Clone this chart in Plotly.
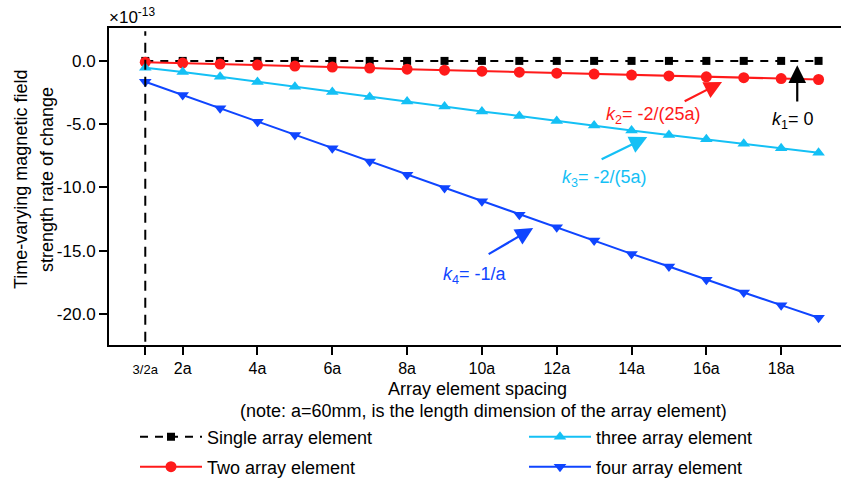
import plotly.graph_objects as go

# ---- data ----
x_pos = list(range(1, 20))  # 3/2a, 2a, 3a, ..., 19a
single = [0.0] * 19
two = [-0.10, -0.17, -0.25, -0.33, -0.41, -0.49, -0.57, -0.65, -0.73, -0.81,
       -0.89, -0.97, -1.04, -1.12, -1.19, -1.26, -1.33, -1.40, -1.47]
three = [-0.55, -0.87, -1.26, -1.66, -2.05, -2.45, -2.85, -3.20, -3.60, -4.00,
         -4.35, -4.75, -5.10, -5.50, -5.85, -6.20, -6.55, -6.90, -7.25]
four = [-1.65, -2.70, -3.75, -4.80, -5.85, -6.90, -7.95, -9.00, -10.05, -11.10,
        -12.15, -13.15, -14.20, -15.25, -16.25, -17.30, -18.30, -19.30, -20.30]
tick_vals = [1, 2, 4, 6, 8, 10, 12, 14, 16, 18]
tick_text = ["<span style='font-size:13px'>3/2a</span>", "2a", "4a", "6a", "8a",
             "10a", "12a", "14a", "16a", "18a"]
y_ticks = [0, -5, -10, -15, -20]
y_tick_text = [f"{v:.1f}" for v in y_ticks]

BLACK = "#000000"
RED = "#ff1a1a"
CYAN = "#14c0f5"
BLUE = "#0f45ff"
FONT = "Arial, Liberation Sans, sans-serif"

# plot-area geometry (pixels)
L, R, T, B = 109, 841, 28, 345
W, H = R - L, B - T

def px(x):
    return (x - L) / W

def py(y):
    return (B - y) / H

fig = go.Figure()
fig.add_trace(go.Scatter(x=x_pos, y=single, mode="lines+markers", name="Single array element",
                         line=dict(color=BLACK, width=2, dash="8px,7px"),
                         marker=dict(symbol="square", size=8, color=BLACK),
                         legend="legend", showlegend=True))
fig.add_trace(go.Scatter(x=x_pos, y=two, mode="lines+markers", name="Two array element",
                         line=dict(color=RED, width=2),
                         marker=dict(symbol="circle", size=11, color=RED),
                         legend="legend2", showlegend=True))
fig.add_trace(go.Scatter(x=x_pos, y=three, mode="lines+markers", name="three array element",
                         line=dict(color=CYAN, width=2),
                         marker=dict(symbol="triangle-up", size=11, color=CYAN),
                         legend="legend3", showlegend=True))
fig.add_trace(go.Scatter(x=x_pos, y=four, mode="lines+markers", name="four array element",
                         line=dict(color=BLUE, width=2),
                         marker=dict(symbol="triangle-down", size=11, color=BLUE),
                         legend="legend4", showlegend=True))

# vertical dashed reference line at 3/2a
fig.add_shape(type="line", xref="x", yref="paper", x0=x_pos[0], x1=x_pos[0], y0=0.01, y1=0.99,
              line=dict(color=BLACK, width=2, dash="10px,7px"))

def arrow(tip, tail, color):
    fig.add_annotation(x=tip[0], y=tip[1], ax=tail[0], ay=tail[1], xref="x", yref="y",
                       axref="x", ayref="y", text="", showarrow=True, arrowhead=2,
                       arrowsize=1.6, arrowwidth=2.2, arrowcolor=color)

def label(pos, text, color):
    fig.add_annotation(x=pos[0], y=pos[1], xref="x", yref="y", text=text, showarrow=False,
                       font=dict(family=FONT, size=18, color=color))

arrow((18.43, -0.35), (18.43, -3.33), BLACK)
label((18.32, -4.67), "<i>k</i><sub>1</sub>= 0", BLACK)
arrow((16.42, -1.67), (15.38, -3.25), RED)
label((14.6, -4.28), "<i>k</i><sub>2</sub>= -2/(25a)", RED)
arrow((14.42, -6.02), (13.16, -7.83), CYAN)
label((13.29, -9.26), "<i>k</i><sub>3</sub>= -2/(5a)", CYAN)
arrow((11.37, -13.21), (10.14, -15.34), BLUE)
label((9.82, -16.93), "<i>k</i><sub>4</sub>= -1/a", BLUE)

# texts around the axes
fig.add_annotation(x=px(107), y=py(16), xref="paper", yref="paper", xanchor="left",
                   yanchor="middle", text="×10<sup>-13</sup>", showarrow=False,
                   font=dict(family=FONT, size=17, color=BLACK))
fig.add_annotation(x=px(477), y=py(389), xref="paper", yref="paper", yanchor="middle",
                   xanchor="center", text="Array element spacing", showarrow=False,
                   font=dict(family=FONT, size=18, color=BLACK))
fig.add_annotation(x=px(483), y=py(411), xref="paper", yref="paper", yanchor="middle",
                   xanchor="center",
                   text="(note: a=60mm, is the length dimension of the array element)",
                   showarrow=False, font=dict(family=FONT, size=18, color=BLACK))
# y-axis title, two rotated lines
fig.add_annotation(x=px(21), y=py(180), xref="paper", yref="paper", textangle=-90,
                   xanchor="center", yanchor="middle",
                   text="Time-varying magnetic field", showarrow=False,
                   font=dict(family=FONT, size=18, color=BLACK))
fig.add_annotation(x=px(47), y=py(180), xref="paper", yref="paper", textangle=-90,
                   xanchor="center", yanchor="middle",
                   text="strength rate of change", showarrow=False,
                   font=dict(family=FONT, size=18, color=BLACK))

def leg(xp, yp):
    return dict(x=px(xp), y=py(yp), xanchor="left", yanchor="middle", orientation="v",
                itemwidth=62, font=dict(family=FONT, size=18), bgcolor="rgba(0,0,0,0)",
                borderwidth=0)

fig.update_layout(
    width=843, height=478,
    showlegend=True,
    margin=dict(l=L, r=843 - R, t=T, b=478 - B, autoexpand=False),
    paper_bgcolor="white", plot_bgcolor="white",
    font=dict(family=FONT, size=17, color=BLACK),
    legend=leg(135, 437),
    legend2=leg(135, 467),
    legend3=leg(524, 437),
    legend4=leg(524, 467),
    xaxis=dict(range=[0.03, 19.6], tickvals=tick_vals, ticktext=tick_text,
               ticks="outside", ticklen=8, tickwidth=1.5, tickcolor=BLACK,
               showline=True, linecolor=BLACK, linewidth=2, mirror=True,
               showgrid=False, zeroline=False, tickfont=dict(size=16), automargin=False),
    yaxis=dict(range=[-22.45, 2.6], tickvals=y_ticks, ticktext=y_tick_text,
               ticks="outside", ticklen=8, tickwidth=1.5, tickcolor=BLACK,
               showline=True, linecolor=BLACK, linewidth=2,
               showgrid=False, zeroline=False, tickfont=dict(size=17), automargin=False),
)

fig.write_html("out.html")
